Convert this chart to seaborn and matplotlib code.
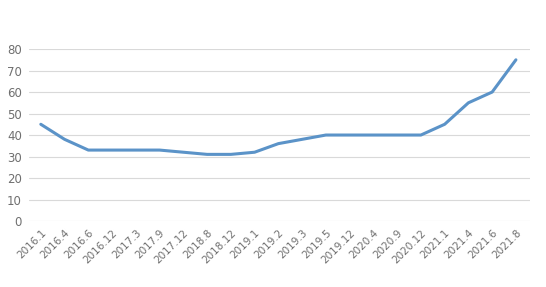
import matplotlib
matplotlib.use("Agg")
import matplotlib.pyplot as plt
import seaborn as sns
import pandas as pd

dates = ["2016.1", "2016.4", "2016.6", "2016.12", "2017.3", "2017.9", "2017.12",
         "2018.8", "2018.12", "2019.1", "2019.2", "2019.3", "2019.5", "2019.12",
         "2020.4", "2020.9", "2020.12", "2021.1", "2021.4", "2021.6", "2021.8"]
values = [45, 38, 33, 33, 33, 33, 32, 31, 31, 32, 36, 38, 40, 40, 40, 40, 40,
          45, 55, 60, 75]
yticks = [0, 10, 20, 30, 40, 50, 60, 70, 80]

df = pd.DataFrame({"date": dates, "value": values, "pos": range(len(dates))})

sns.set_theme(style="white")
plt.rcParams['font.family'] = ['DejaVu Sans', 'Noto Sans CJK SC']

fig = plt.figure(figsize=(5.46, 2.87), dpi=100)
ax = fig.add_axes([0.053, 0.23, 0.918, 0.599])

for y in yticks:
    ax.axhline(y, color="#d9d9d9", lw=0.8, zorder=0)

sns.lineplot(data=df, x="pos", y="value", ax=ax, color="#5b93c8", lw=2.2,
             clip_on=False)

ax.set_xlim(-0.5, len(dates) - 0.4)
ax.set_ylim(0, 80)
ax.set_yticks(yticks)
ax.set_yticklabels([str(v) for v in yticks], color="#6f6f6f", fontsize=8.5)
ax.set_xticks(range(len(dates)))
ax.set_xticklabels(dates, rotation=45, ha="right", rotation_mode="anchor",
                   color="#6f6f6f", fontsize=7.5)
ax.tick_params(axis="both", length=0, pad=5)
ax.set_xlabel("")
ax.set_ylabel("")
for s in ax.spines.values():
    s.set_visible(False)

fig.savefig("out.png", dpi=100, facecolor="white")
